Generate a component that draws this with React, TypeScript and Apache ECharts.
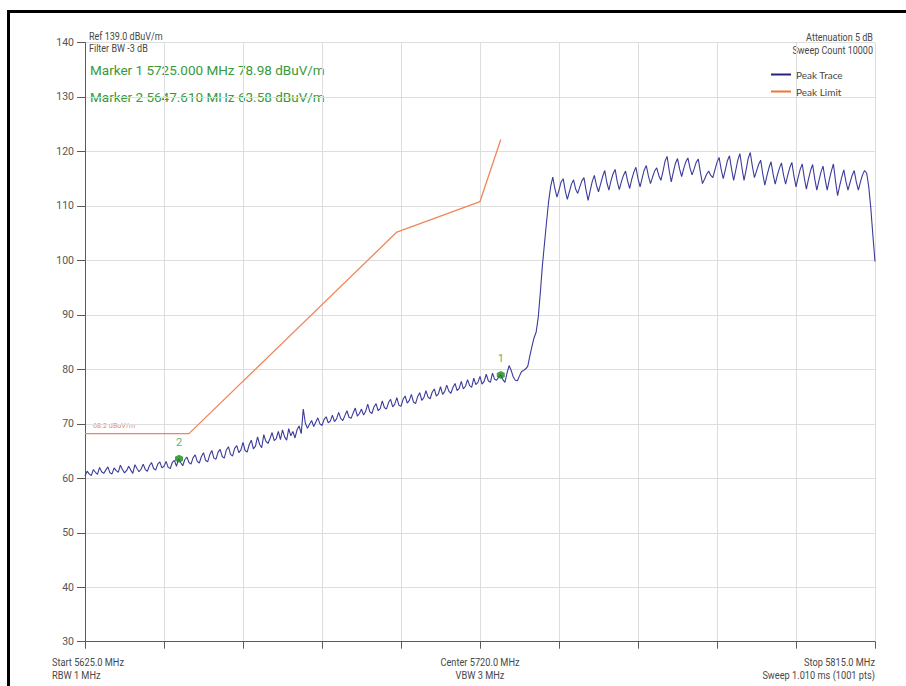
import React, { useEffect, useRef } from "react";
import * as echarts from "echarts";

// Frequency axis (MHz)
const freqStart = 5625;
const freqStop = 5815;
const freqGrid = 19;
// Level axis (dBuV/m)
const levelMin = 30;
const levelMax = 140;
const levelGrid = 10;

// Peak trace, every 0.5 MHz starting at 5625 MHz
const traceStep = 0.5;
const traceValues = [
  60.4, 61.3, 60.8, 60.5, 61.6, 61.1, 60.7, 62.0, 61.2, 60.9,
  61.5, 62.1, 61.0, 60.8, 61.9, 61.4, 61.1, 62.4, 61.6, 61.0,
  61.4, 62.2, 61.5, 60.9, 62.5, 61.8, 61.2, 61.7, 62.6, 61.6,
  61.3, 62.3, 62.9, 61.8, 61.5, 62.6, 63.0, 61.9, 62.2, 63.1,
  62.0, 61.8, 62.9, 63.3, 62.2, 63.6, 62.9, 62.3, 63.4, 63.9,
  62.9, 62.6, 63.8, 64.3, 63.1, 62.8, 64.0, 64.7, 63.3, 63.0,
  64.3, 65.1, 63.7, 63.5, 64.8, 65.3, 64.0, 63.7, 65.2, 65.8,
  64.4, 64.1, 65.5, 66.0, 64.7, 65.2, 66.6, 65.1, 64.8, 66.2,
  67.0, 65.4, 65.9, 67.6, 66.2, 65.6, 68.0, 66.8, 66.4, 67.3,
  68.4, 66.9, 67.3, 68.6, 67.1, 68.9, 67.6, 67.0, 69.1, 67.8,
  68.6, 67.4, 68.9, 69.6, 68.2, 72.7, 70.1, 69.2, 69.9, 70.6,
  69.5, 70.3, 71.1, 70.0, 69.7, 70.8, 71.3, 70.2, 70.5, 71.6,
  70.4, 70.9, 72.1, 71.0, 70.6, 71.5, 72.4, 71.2, 71.0, 72.0,
  72.9, 71.4, 71.9, 72.7, 71.6, 72.3, 73.6, 72.2, 71.9, 73.1,
  73.7, 72.4, 72.8, 74.2, 73.0, 72.7, 73.9, 74.5, 73.1, 73.6,
  74.8, 73.4, 73.2, 74.5, 75.1, 73.8, 74.3, 75.4, 74.0, 73.7,
  75.0, 75.7, 74.3, 74.8, 76.1, 74.9, 74.6, 75.8, 76.4, 75.1,
  75.5, 76.8, 75.4, 75.9, 77.1, 76.0, 75.6, 76.7, 77.4, 76.1,
  76.5, 77.8, 76.4, 76.9, 78.1, 77.0, 76.7, 78.4, 77.2, 77.6,
  78.7, 77.3, 77.8, 79.1, 77.9, 77.6, 79.3, 78.2, 78.0, 78.6,
  79.0, 78.1, 77.6, 79.3, 80.7, 79.8, 78.6, 78.0, 77.9, 78.8,
  79.6, 79.8, 80.1, 80.6, 82.5, 84.2, 85.8, 86.8, 89.5, 94.0,
  99.0, 103.0, 107.0, 110.8, 113.6,
  115.3, 113.2, 111.6, 112.9, 114.4,
  115.0, 112.8, 111.2, 112.6, 114.0,
  114.8, 113.1, 112.3, 113.5, 114.6,
  115.2, 112.9, 111.0, 112.8, 114.5,
  115.6, 113.8, 112.6, 114.0, 115.4,
  116.5, 114.3, 112.9, 114.6, 115.9,
  116.7, 114.5, 113.0, 114.4, 115.6,
  116.4, 114.6, 113.2, 114.9, 116.2,
  117.1, 115.0, 113.5, 115.1, 116.6,
  117.4, 115.5, 114.1, 115.3, 116.4,
  117.0, 115.6, 114.7, 116.3, 118.2,
  119.1, 116.5, 114.4, 116.2, 117.8,
  118.7, 116.8, 115.4, 116.9, 118.1,
  118.8, 117.0, 115.7, 116.8, 118.0,
  118.6, 116.2, 114.1, 114.9, 115.8,
  116.4, 115.6, 115.2, 116.6, 118.0,
  118.9, 116.7, 115.0, 116.6, 118.3,
  119.2, 116.8, 114.7, 116.5, 118.4,
  119.6, 117.0, 114.7, 116.6, 118.7,
  119.8, 117.3, 115.2, 116.4, 117.6,
  118.4, 115.9, 113.8, 115.5, 117.0,
  118.1, 115.8, 114.0, 115.6, 116.9,
  117.9, 115.7, 114.0, 115.6, 117.0,
  118.0, 115.5, 113.5, 115.2, 116.7,
  117.7, 115.1, 113.1, 114.9, 116.5,
  117.6, 115.0, 112.9, 114.6, 116.2,
  117.3, 114.9, 112.9, 114.8, 116.4,
  117.7, 114.6, 111.9, 113.7, 115.3,
  116.6, 114.5, 112.9, 114.3, 115.6,
  116.5, 114.4, 112.9, 114.4, 115.7,
  116.5, 116.0, 113.5, 109.5, 104.5, 99.8,
];

// Peak limit mask
const limitFreqs = [5625, 5650, 5700, 5720, 5725];
const limitValues = [68.2, 68.2, 105.2, 110.8, 122.2];
const limitLabel = "68.2 dBuV/m";

// Markers
const markerNames = ["1", "2"];
const markerFreqs = [5725.0, 5647.61];
const markerValues = [78.98, 63.58];

// Annotation texts
const headerLeft = ["Ref 139.0 dBuV/m", "Filter BW -3 dB"];
const markerLines = [
  "Marker 1 5725.000 MHz 78.98 dBuV/m",
  "Marker 2 5647.610 MHz 63.58 dBuV/m",
];
const headerRight = ["Attenuation 5 dB", "Sweep Count 10000"];
const footerLeft = ["Start 5625.0 MHz", "RBW 1 MHz"];
const footerCenter = ["Center 5720.0 MHz", "VBW 3 MHz"];
const footerRight = ["Stop 5815.0 MHz", "Sweep 1.010 ms (1001 pts)"];

const SMALL = "Roboto, 'Liberation Sans', sans-serif";
const MAIN = "Roboto, 'Liberation Sans', sans-serif";
const GREEN = "#38993a";
const GREY_TEXT = "#484848";

export default function App() {
  const ref = useRef<HTMLDivElement>(null);

  useEffect(() => {
    if (!ref.current) return;
    const chart = echarts.init(ref.current, null, { renderer: "svg" });

    const traceData = traceValues.map((v, i) => [freqStart + i * traceStep, v]);
    const limitData = limitFreqs.map((f, i) => [f, limitValues[i]]);
    const markerData = markerFreqs.map((f, i) => ({
      name: markerNames[i],
      value: [f, markerValues[i]],
    }));

    const txt = (
      text: string,
      x: number,
      y: number,
      align: string,
      font: string,
      fill: string,
      scaleX = 1
    ) => ({
      type: "text",
      x,
      y,
      scaleX,
      silent: true,
      style: { text, font, fill, align, verticalAlign: "middle" },
    });

    chart.setOption({
      animation: false,
      backgroundColor: "#ffffff",
      grid: { left: 85, right: 31, top: 42.5, bottom: 44.3, containLabel: false },
      xAxis: {
        type: "value",
        min: freqStart,
        max: freqStop,
        interval: freqGrid,
        axisLine: { show: true, onZero: false, lineStyle: { color: "#5a5a5a", width: 1 } },
        axisTick: { show: true, length: 7, lineStyle: { color: "#5a5a5a" } },
        axisLabel: { show: false },
        splitLine: { show: true, lineStyle: { color: "#dedede", width: 1 } },
      },
      yAxis: {
        type: "value",
        min: levelMin,
        max: levelMax,
        interval: levelGrid,
        axisLine: { show: true, onZero: false, lineStyle: { color: "#5a5a5a", width: 1 } },
        axisTick: { show: true, length: 8, lineStyle: { color: "#5a5a5a" } },
        axisLabel: {
          show: true,
          margin: 11,
          color: "#555555",
          fontSize: 10.5,
          fontFamily: SMALL,
        },
        splitLine: { show: true, lineStyle: { color: "#dedede", width: 1 } },
      },
      legend: {
        show: true,
        orient: "vertical",
        left: 771,
        top: 69.5,
        padding: 0,
        itemWidth: 20,
        itemHeight: 2,
        itemGap: 7,
        icon: "rect",
        data: ["Peak Trace", "Peak Limit"],
        textStyle: { color: GREY_TEXT, fontSize: 10, fontFamily: "Lato, Roboto, sans-serif" },
      },
      series: [
        {
          name: "Peak Trace",
          type: "line",
          data: traceData,
          showSymbol: false,
          symbol: "none",
          color: "#24247f",
          lineStyle: { color: "#3b3b9c", width: 1.1 },
          z: 3,
        },
        {
          name: "Peak Limit",
          type: "line",
          data: limitData,
          showSymbol: false,
          symbol: "none",
          color: "#e8773a",
          lineStyle: { color: "#f0865a", width: 1.3 },
          z: 2,
        },
        {
          name: "Markers",
          type: "scatter",
          data: markerData,
          symbol: "path://M0,-1L0.866,-0.5L0.866,0.5L0,1L-0.866,0.5L-0.866,-0.5Z",
          symbolSize: 8,
          itemStyle: { color: "#188a18" },
          label: {
            show: true,
            position: "top",
            distance: 7,
            formatter: (p: any) => p.name,
            color: GREEN,
            fontSize: 11,
            fontFamily: MAIN,
          },
          z: 4,
        },
      ],
      graphic: [
        {
          type: "rect",
          silent: true,
          shape: { x: 8.5, y: 11.5, width: 1200, height: 1200 },
          style: { fill: "none", stroke: "#000000", lineWidth: 3 },
        },
        txt(headerLeft[0], 89, 36, "left", `10.5px ${SMALL}`, GREY_TEXT, 0.86),
        txt(headerLeft[1], 89, 48, "left", `10.5px ${SMALL}`, GREY_TEXT, 0.86),
        txt(markerLines[0], 90, 70, "left", `13.5px ${MAIN}`, GREEN),
        txt(markerLines[1], 90, 97, "left", `13.5px ${MAIN}`, GREEN),
        txt(headerRight[0], 873, 37, "right", `10.5px ${SMALL}`, GREY_TEXT, 0.86),
        txt(headerRight[1], 873, 50, "right", `10.5px ${SMALL}`, GREY_TEXT, 0.86),
        txt(footerLeft[0], 52, 662.5, "left", `11px ${SMALL}`, GREY_TEXT, 0.84),
        txt(footerLeft[1], 52, 675.5, "left", `11px ${SMALL}`, GREY_TEXT, 0.84),
        txt(footerCenter[0], 480, 662.5, "center", `11px ${SMALL}`, GREY_TEXT, 0.84),
        txt(footerCenter[1], 480, 675.5, "center", `11px ${SMALL}`, GREY_TEXT, 0.84),
        txt(footerRight[0], 875, 662.5, "right", `11px ${SMALL}`, GREY_TEXT, 0.84),
        txt(footerRight[1], 875, 675.5, "right", `11px ${SMALL}`, GREY_TEXT, 0.84),
        txt(limitLabel, 93, 425, "left", `8px ${SMALL}`, "#f08a5d", 0.9),
      ],
    });

    return () => chart.dispose();
  }, []);

  return (
    <div
      ref={ref}
      style={{ position: "fixed", left: 0, top: 0, width: 906, height: 686, background: "#ffffff" }}
    />
  );
}
